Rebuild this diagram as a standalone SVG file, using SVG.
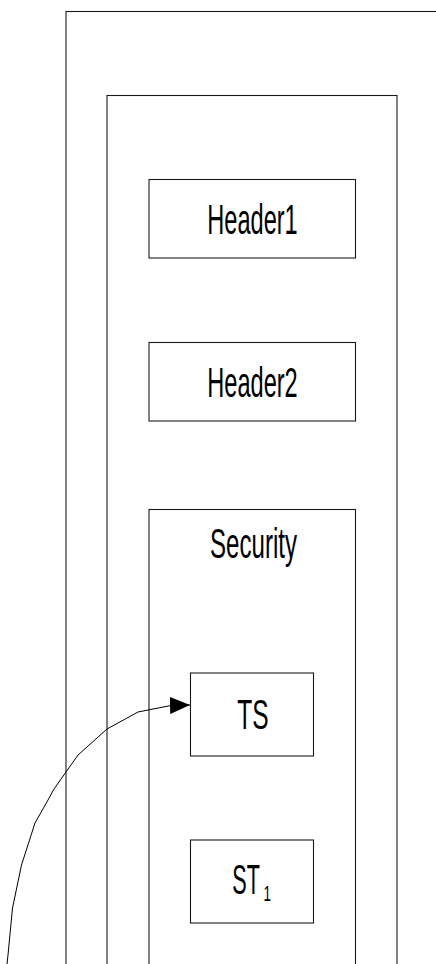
<svg xmlns="http://www.w3.org/2000/svg" width="436" height="964" viewBox="0 0 436 964">
  <style>
    .frame { fill: none; stroke: #1a1a1a; stroke-width: 1.1; }
    .box { fill: #ffffff; stroke: #1a1a1a; stroke-width: 1.1; }
    .label { font-family: "Liberation Sans", Arial, sans-serif; font-size: 42px; fill: #000; }
    .link { fill: none; stroke: #000; stroke-width: 1; }
  </style>
  <defs>
    <marker id="arrow" viewBox="0 0 20 17" markerUnits="userSpaceOnUse" markerWidth="20" markerHeight="17" refX="20" refY="8.5" orient="auto">
      <path d="M0,0 L20,8.5 L0,17 z" fill="#000"/>
    </marker>
  </defs>
  <rect width="436" height="964" fill="#ffffff"/>

  <!-- envelope -->
  <g id="envelope">
    <rect class="frame" x="66" y="11.5" width="420" height="1000"/>
  </g>
  <!-- header section -->
  <g id="header">
    <rect class="frame" x="107" y="95.5" width="290" height="920"/>
  </g>
  <g id="header1">
    <rect class="box" x="149" y="179.5" width="206.5" height="78.5"/>
    <text class="label" x="207.3" y="234" textLength="90.4" lengthAdjust="spacingAndGlyphs">Header1</text>
  </g>
  <g id="header2">
    <rect class="box" x="149" y="342.5" width="206.5" height="78.5"/>
    <text class="label" x="207.3" y="397" textLength="90.4" lengthAdjust="spacingAndGlyphs">Header2</text>
  </g>
  <g id="security">
    <rect class="frame" x="149" y="509.5" width="206.5" height="520"/>
    <text class="label" x="210" y="558" textLength="87" lengthAdjust="spacingAndGlyphs">Security</text>
  </g>
  <g id="ts">
    <rect class="box" x="190.5" y="673" width="123" height="83"/>
    <text class="label" x="237.3" y="729.3" textLength="31.4" lengthAdjust="spacingAndGlyphs">TS</text>
  </g>
  <g id="st1">
    <rect class="box" x="190.5" y="840" width="123" height="83"/>
    <text class="label" x="232.3" y="894"><tspan textLength="27.7" lengthAdjust="spacingAndGlyphs">ST</tspan><tspan x="263.5" dy="6.7" font-size="22" textLength="7.5" lengthAdjust="spacingAndGlyphs">1</tspan></text>
  </g>

  <!-- connectors -->
  <g id="connectors">
    <path class="link" marker-end="url(#arrow)" d="M7,964 L8,955 L12.5,908 L21.5,865 L35,823 L48,800 L54,789 L78,755 L107,729 L138,712 L171,705.5 L190,705"/>
  </g>
</svg>
